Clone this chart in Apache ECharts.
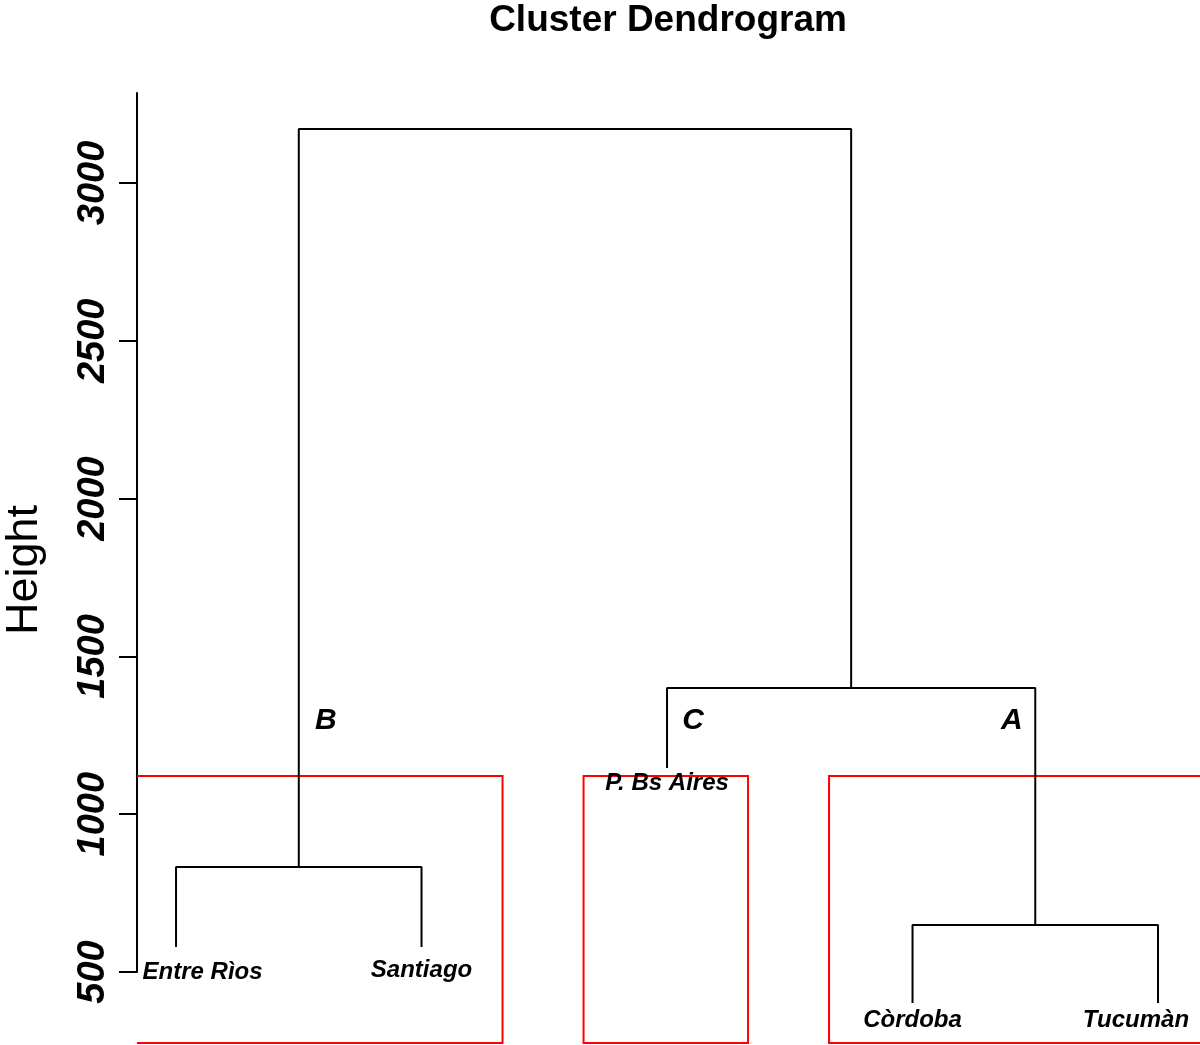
<!DOCTYPE html>
<html>
<head>
<meta charset="utf-8">
<title>Cluster Dendrogram</title>
<script src="https://cdn.jsdelivr.net/npm/echarts@6/dist/echarts.min.js"></script>
<style>
  html, body { margin: 0; padding: 0; background: #fff; }
  #chart { width: 1200px; height: 1045px; }
</style>
</head>
<body>
<div id="chart"></div>
<script>
// ==============================================================
// data
// ==============================================================
var leaves = ['Entre Rìos', 'Santiago', 'P. Bs Aires', 'Còrdoba', 'Tucumàn'];
var leafX = [1, 2, 3, 4, 5];
var leafBottom = [579, 579, 1146, 402, 402];

// merges: [left child, right child, height]; children >= 0 are leaves, < 0 are earlier merges (-1 = first)
var mergeLeft = [0, 3, 2, -1];
var mergeRight = [1, 4, -2, -3];
var mergeHeight = [833, 649, 1400, 3171];

// rect.hclust boxes
var boxLeft = [0.66, 2.66, 3.66];
var boxRight = [2.33, 3.33, 5.33];
var boxTop = [1121, 1121, 1121];
var boxBottom = 275;

// cluster letters
var clusterNames = ['B', 'C', 'A'];
var clusterX = [1.61, 3.106, 4.405];
var clusterY = [1295, 1295, 1295];

// leaf label anchors
var labelX = [1.108, 2, 3, 4, 4.91];
var labelY = [500, 506, 1099, 348, 348];

var yTicks = [500, 1000, 1500, 2000, 2500, 3000];

var FONT = '"Liberation Sans", Arial, Helvetica, sans-serif';

// build the U shapes
var nodeX = [];
function childPos(c) {
    if (c >= 0) return [leafX[c], leafBottom[c]];
    return [nodeX[-c - 1], mergeHeight[-c - 1]];
}
var treeSeries = [];
for (var i = 0; i < mergeHeight.length; i++) {
    var a = childPos(mergeLeft[i]), b = childPos(mergeRight[i]);
    nodeX.push((a[0] + b[0]) / 2);
    treeSeries.push({
        type: 'line',
        xAxisIndex: 0, yAxisIndex: 0,
        data: [[a[0], a[1]], [a[0], mergeHeight[i]], [b[0], mergeHeight[i]], [b[0], b[1]]],
        showSymbol: false,
        symbol: 'none',
        silent: true,
        lineStyle: { color: '#000', width: 2 },
        z: 3
    });
}

var boxData = boxLeft.map(function (l, i) { return [l, boxRight[i], boxTop[i], boxBottom]; });

var textData = leaves.map(function (n, i) {
    return { value: [labelX[i], labelY[i]], name: n, size: 24 };
}).concat(clusterNames.map(function (n, i) {
    return { value: [clusterX[i], clusterY[i]], name: n, size: 30 };
}));

var chart = echarts.init(document.getElementById('chart'));

var option = {
    backgroundColor: '#fff',
    animation: false,
    grid: [
        { left: 137, right: 0, top: 93, bottom: 0 },
        { left: 137, width: 10, top: 93, bottom: 73 }
    ],
    xAxis: [
        { gridIndex: 0, type: 'value', min: 0.841, max: 5.171, show: false },
        { gridIndex: 1, type: 'value', min: 0, max: 1, show: false }
    ],
    yAxis: [
        { gridIndex: 0, type: 'value', min: 268.7, max: 3285, show: false },
        {
            gridIndex: 1, type: 'value', min: 500, max: 3285,
            splitLine: { show: false },
            axisLine: { show: true, lineStyle: { color: '#000', width: 2 } },
            axisTick: { show: true, length: 18, customValues: yTicks, lineStyle: { color: '#000', width: 2 } },
            axisLabel: {
                customValues: yTicks,
                formatter: function (v) { return String(v); },
                rotate: 90,
                margin: 24,
                color: '#000',
                fontFamily: FONT,
                fontSize: 38,
                fontWeight: 'bold',
                fontStyle: 'italic'
            }
        }
    ],
    graphic: [
        {
            type: 'text', x: 668, y: 21,
            style: { text: 'Cluster Dendrogram', font: 'bold 37px ' + FONT, fill: '#000', textAlign: 'center', textVerticalAlign: 'middle' }
        },
        {
            type: 'text', x: 25, y: 570, rotation: Math.PI / 2,
            style: { text: 'Height', font: '45px ' + FONT, fill: '#000', textAlign: 'center', textVerticalAlign: 'middle' }
        }
    ],
    series: treeSeries.concat([
        {
            type: 'custom',
            xAxisIndex: 0, yAxisIndex: 0,
            clip: true,
            silent: true,
            data: boxData,
            renderItem: function (params, api) {
                var p1 = api.coord([api.value(0), api.value(2)]);
                var p2 = api.coord([api.value(1), api.value(3)]);
                return {
                    type: 'rect',
                    shape: { x: p1[0], y: p1[1], width: p2[0] - p1[0], height: p2[1] - p1[1] },
                    style: { fill: null, stroke: '#f00', lineWidth: 2 }
                };
            },
            z: 2
        },
        {
            type: 'custom',
            xAxisIndex: 0, yAxisIndex: 0,
            silent: true,
            data: textData,
            renderItem: function (params, api) {
                var d = textData[params.dataIndex];
                var p = api.coord([api.value(0), api.value(1)]);
                return {
                    type: 'text',
                    x: p[0], y: p[1],
                    style: {
                        text: d.name,
                        font: 'italic bold ' + d.size + 'px ' + FONT,
                        fill: '#000',
                        textAlign: 'center',
                        textVerticalAlign: 'middle'
                    }
                };
            },
            z: 4
        }
    ])
};

chart.setOption(option);
</script>
</body>
</html>
